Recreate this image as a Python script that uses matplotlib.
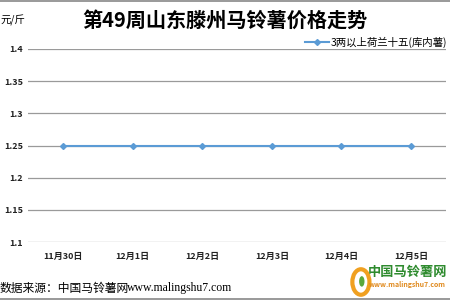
import matplotlib.pyplot as plt
from matplotlib.patches import Ellipse

plt.rcParams['font.family'] = ['Noto Sans CJK SC', 'DejaVu Sans']

dates = ['11月30日', '12月1日', '12月2日', '12月3日', '12月4日', '12月5日']
prices = [1.25, 1.25, 1.25, 1.25, 1.25, 1.25]
yticks = [1.1, 1.15, 1.2, 1.25, 1.3, 1.35, 1.4]
series_name = '3两以上荷兰十五(库内薯)'

fig = plt.figure(figsize=(4.5, 3), dpi=100)
ax = fig.add_axes([0.0627, 0.1933, 0.928, 0.6434])

x = list(range(len(dates)))
ax.plot(x, prices, color='#5B9BD5', lw=1.5, marker='D', ms=3, label=series_name)
ax.set_xlim(-0.5, len(dates) - 0.5)
ax.set_ylim(1.1, 1.4)
ax.set_yticks(yticks)
ax.set_yticklabels(['1.1', '1.15', '1.2', '1.25', '1.3', '1.35', '1.4'])
ax.set_xticks(x)
ax.set_xticklabels(dates)
ax.tick_params(length=0, labelsize=6.5, colors='#222222')
ax.tick_params(axis='x', pad=7)
for lab in ax.get_xticklabels() + ax.get_yticklabels():
    lab.set_fontweight('bold')
ax.grid(axis='y', color='#9a9a9a', lw=0.9)
ax.set_axisbelow(True)
for s in ax.spines.values():
    s.set_visible(False)

fig.text(0.5, 0.933, '第49周山东滕州马铃薯价格走势', ha='center', va='center',
         fontsize=14.5, fontweight='bold')
fig.text(0.0, 0.933, '元/斤', ha='left', va='center', fontsize=7.5)
fig.text(0.0, 0.04, '数据来源：中国马铃薯网', ha='left', va='center', fontsize=8.5)
fig.text(0.283, 0.04, 'www.malingshu7.com', ha='left', va='center', fontsize=8.5,
         family='Liberation Serif')

ax.legend(loc='lower left', bbox_to_anchor=(0.652, 0.985), frameon=False,
          fontsize=7.5, handlelength=2.3, borderaxespad=0, handletextpad=0.2)

# logo bottom right
fig.text(0.993, 0.093, '中国马铃薯网', ha='right', va='center', fontsize=9.5,
         fontweight='bold', color='#2e8b2e')
fig.text(0.99, 0.05, 'www.malingshu7.com', ha='right', va='center', fontsize=5,
         fontweight='bold', color='#e08a1e')
fig.add_artist(Ellipse((0.802, 0.06), 0.038, 0.085, transform=fig.transFigure,
                       facecolor='none', edgecolor='#f0a020', lw=3))
fig.add_artist(Ellipse((0.804, 0.062), 0.012, 0.035, transform=fig.transFigure,
                       facecolor='#5aa83c', edgecolor='none'))

fig.add_artist(plt.Line2D([0, 1], [0.998, 0.998], color='#888888', lw=1.2))
fig.add_artist(plt.Line2D([0, 1], [0.004, 0.004], color='#888888', lw=1.2))

fig.savefig('out.png', dpi=100)
